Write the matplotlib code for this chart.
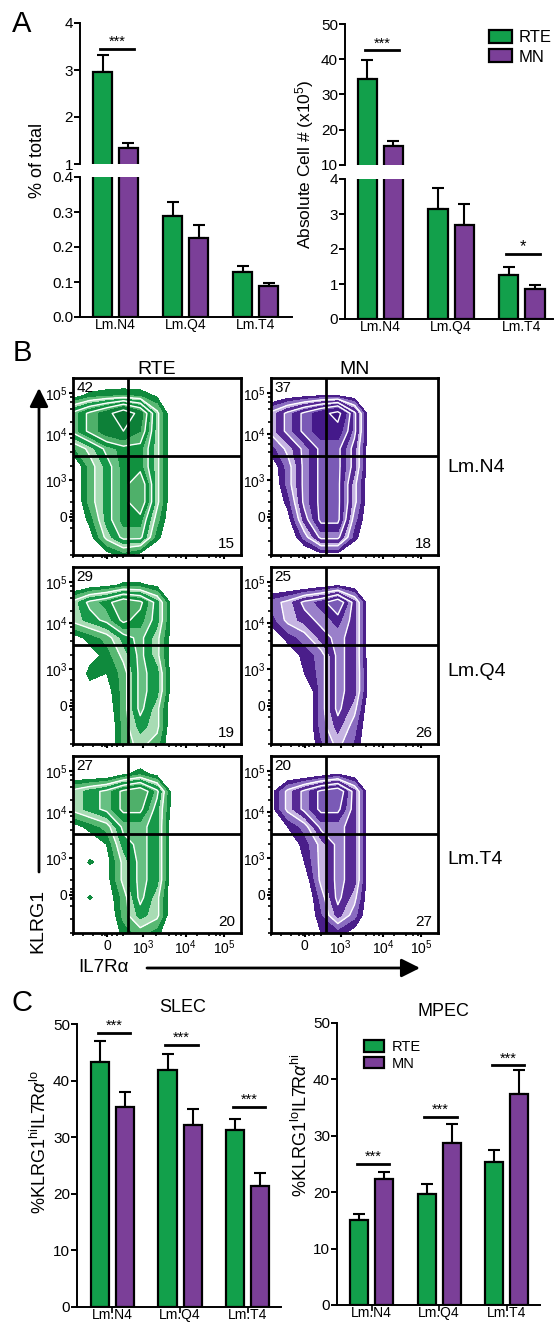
import numpy as np
import matplotlib
matplotlib.use("Agg")
import matplotlib.pyplot as plt

plt.rcParams['font.family'] = ['Liberation Sans', 'DejaVu Sans']
plt.rcParams['mathtext.fontset'] = 'custom'
plt.rcParams['mathtext.rm'] = 'Liberation Sans'
plt.rcParams['mathtext.it'] = 'Liberation Sans:italic'
plt.rcParams['axes.linewidth'] = 1.4

W, H = 555, 1322
GREEN = '#12a04b'
PURPLE = '#7b3f98'

# ---------------- data ----------------
groups = ['Lm.N4', 'Lm.Q4', 'Lm.T4']

# A: % of total
pct_rte = [2.95, 0.29, 0.128]
pct_rte_sem = [0.37, 0.04, 0.019]
pct_mn = [1.35, 0.225, 0.088]
pct_mn_sem = [0.10, 0.038, 0.009]
pct_sig = [(0, 3.45, '***')]

# A: absolute cell number (x10^5)
abs_rte = [34.5, 3.15, 1.25]
abs_rte_sem = [5.3, 0.6, 0.23]
abs_mn = [15.3, 2.7, 0.85]
abs_mn_sem = [1.6, 0.6, 0.13]
abs_sig = [(0, 42.5, '***'), (2, 1.85, '*')]

# C: SLEC / MPEC
slec_rte = [43.2, 41.8, 31.2]
slec_rte_sem = [3.8, 2.9, 2.1]
slec_mn = [35.3, 32.1, 21.3]
slec_mn_sem = [2.7, 2.8, 2.3]
slec_sig = [(0, 48.4, '***'), (1, 46.3, '***'), (2, 35.4, '***')]

mpec_rte = [15.1, 19.7, 25.3]
mpec_rte_sem = [1.0, 1.8, 2.2]
mpec_mn = [22.3, 28.8, 37.4]
mpec_mn_sem = [1.2, 3.3, 4.3]
mpec_sig = [(0, 25.0, '***'), (1, 33.4, '***'), (2, 42.5, '***')]

# B: flow plots, coarse density grids
# rows: KLRG1 display 1.0 -> 0.0, cols: IL7Ra display 0.0 -> 0.7
rte_n4 = [
    [0, 0, 0, 0, 0, 0, 0, 0],
    [0.5, 1, 1.2, 1.3, 1.2, 0.7, 0, 0],
    [3, 4, 5, 6.5, 5, 2, 0, 0],
    [3, 4, 5, 5.5, 4.5, 2, 0, 0],
    [1.2, 2, 3, 3.5, 3.5, 2, 0, 0],
    [0, 1.5, 2.5, 3.5, 3.5, 2, 0, 0],
    [0, 1.5, 2.5, 3.5, 4.5, 2, 0, 0],
    [0, 1.5, 2.5, 3.5, 4.5, 2, 0, 0],
    [0, 1, 2.5, 3.5, 3.5, 1.5, 0, 0],
    [0, 0.5, 2, 3, 3, 1, 0, 0],
    [0, 0, 0.5, 1, 0.5, 0, 0, 0],
]
mn_n4 = [
    [0, 0, 0, 0, 0, 0, 0, 0],
    [0, 0.4, 0.6, 0.8, 0.8, 0.4, 0, 0],
    [2, 3, 4, 5, 6, 3, 0, 0],
    [2, 3, 4, 5, 5, 3, 0, 0],
    [1, 2, 3, 4, 4, 2.5, 0, 0],
    [0.3, 1.5, 3, 4, 4, 2.5, 0, 0],
    [0, 1.5, 3, 4, 4, 2, 0, 0],
    [0, 1, 3, 4, 4, 2, 0, 0],
    [0, 0.5, 2.5, 4, 4, 1.5, 0, 0],
    [0, 0, 1.5, 3, 3, 1, 0, 0],
    [0, 0, 0, 0.5, 0.5, 0, 0, 0],
]
rte_q4 = [
    [0, 0, 0, 0, 0, 0, 0, 0],
    [0, 0.3, 0.5, 0.9, 0.9, 0.6, 0, 0],
    [2, 3, 3.5, 4.5, 4, 2.5, 0.3, 0],
    [2, 2.5, 3, 4, 3.5, 2.5, 0.3, 0],
    [0.5, 1, 1.5, 2.5, 3, 2, 0.3, 0],
    [0, 0.5, 1, 2, 3, 2, 0.2, 0],
    [0, 1, 0.8, 1.5, 3, 2.5, 0.2, 0],
    [0, 0.5, 0.5, 1.5, 3, 2.5, 0.2, 0],
    [0, 0, 0.3, 1.5, 3, 2, 0, 0],
    [0, 0, 0, 1.5, 2.5, 2, 0, 0],
    [0, 0, 0, 1.5, 2, 1.5, 0, 0],
]
mn_q4 = [
    [0, 0, 0, 0, 0, 0, 0, 0],
    [0, 0, 0, 0.3, 0.6, 0.3, 0, 0],
    [1.5, 2, 3, 3.5, 4.5, 2.5, 0, 0],
    [1, 2, 2.5, 3, 3.5, 2.5, 0, 0],
    [0.3, 1, 1.5, 2.5, 3, 2.5, 0, 0],
    [0, 0.3, 1, 1.5, 3, 2.5, 0, 0],
    [0, 0, 0.8, 1.5, 3, 2.5, 0.2, 0],
    [0, 0, 0, 1.5, 3, 2.5, 0.2, 0],
    [0, 0, 0, 1.5, 3, 2, 0, 0],
    [0, 0, 0, 1.5, 2.5, 1.5, 0, 0],
    [0, 0, 0, 1.2, 2, 1.2, 0, 0],
]
rte_t4 = [
    [0, 0, 0, 0, 0, 0, 0, 0],
    [0, 0, 0, 0.6, 1.1, 0.5, 0, 0],
    [2, 2.5, 3, 4, 4.5, 3, 0.2, 0],
    [2, 2.5, 3, 4, 4, 2.5, 0.3, 0],
    [0.5, 1, 1.5, 3, 3, 2.5, 0, 0],
    [0, 0.3, 0.8, 2.5, 3, 2.5, 0, 0],
    [0, 0.9, 0.5, 2, 3, 2.5, 0, 0],
    [0, 0, 0.5, 2, 3, 2.5, 0, 0],
    [0, 0.9, 0.3, 1.5, 3, 2, 0, 0],
    [0, 0, 0, 1.5, 2.5, 2, 0, 0],
    [0, 0, 0, 1, 1.5, 1, 0, 0],
]
mn_t4 = [
    [0, 0, 0, 0, 0, 0, 0, 0],
    [0, 0, 0, 0.3, 0.7, 0.3, 0, 0],
    [0.5, 2, 3, 4, 4.5, 2.5, 0, 0],
    [0.5, 2, 3, 4, 4, 2.5, 0, 0],
    [0, 0.8, 1.5, 3, 3, 2.5, 0, 0],
    [0, 0.3, 1, 2, 3, 2.5, 0, 0],
    [0, 0, 0.8, 2, 3, 2.5, 0, 0],
    [0, 0, 0.3, 2, 3, 2.5, 0, 0],
    [0, 0, 0, 1.5, 3, 2, 0, 0],
    [0, 0, 0, 1.2, 2.5, 1.5, 0, 0],
    [0, 0, 0, 0.8, 1, 0.5, 0, 0],
]
quad_ul = [[42, 37], [29, 25], [27, 20]]
quad_lr = [[15, 18], [19, 26], [20, 27]]
flow_rows = ['Lm.N4', 'Lm.Q4', 'Lm.T4']
flow_cols = ['RTE', 'MN']
flow_grids = [[rte_n4, mn_n4], [rte_q4, mn_q4], [rte_t4, mn_t4]]

axis_ticks = ['0', '$10^3$', '$10^4$', '$10^5$']
ytick_pos = [0.215, 0.424, 0.684, 0.915]
xtick_pos = [0.202, 0.417, 0.67, 0.9]
gate_x, gate_y = 0.327, 0.559

fig = plt.figure(figsize=(W / 100, H / 100), dpi=100)


def add_ax(x0, y0, x1, y1):
    return fig.add_axes([x0 / W, 1 - y1 / H, (x1 - x0) / W, (y1 - y0) / H])


# overlay in pixel coords for free text / arrows
ov = fig.add_axes([0, 0, 1, 1])
ov.set_xlim(0, W)
ov.set_ylim(H, 0)
ov.axis('off')

BW, OFF = 0.27, 0.185


def draw_bars(ax, rte, rte_sem, mn, mn_sem):
    x = np.arange(len(groups))
    for xs, v, e, c in [(x - OFF, rte, rte_sem, GREEN), (x + OFF, mn, mn_sem, PURPLE)]:
        ax.bar(xs, v, width=BW, color=c, edgecolor='black', linewidth=1.6, zorder=2)
        ax.errorbar(xs, v, yerr=[np.zeros(len(v)), e], fmt='none', ecolor='black',
                    elinewidth=1.5, capsize=4, capthick=1.5, zorder=1)


def style_ax(ax, bottom=True, xtick_len=0, ysize=11):
    ax.spines['top'].set_visible(False)
    ax.spines['right'].set_visible(False)
    ax.patch.set_alpha(0)
    ax.tick_params(axis='y', direction='out', length=4, width=1.4, labelsize=ysize, pad=1)
    if bottom:
        ax.set_xticks(range(len(groups)))
        ax.set_xticklabels(groups, fontsize=10)
        ax.tick_params(axis='x', length=xtick_len, width=1.2,
                       pad=1 - xtick_len)
    else:
        ax.spines['bottom'].set_visible(False)
        ax.set_xticks([])


def draw_sig(ax, sig, fs=10.5):
    for g, lvl, txt in sig:
        ax.plot([g - 0.22, g + 0.26], [lvl, lvl], color='black', lw=2, clip_on=False)
        ax.annotate(txt, (g + 0.02, lvl), xytext=(0, 0), textcoords='offset points',
                    ha='center', va='bottom', fontsize=fs)


# ---------------- panel A left ----------------
xl = (-0.507, 2.52)
a1t = add_ax(80, 23, 292, 164)
a1b = add_ax(80, 177, 292, 317)
for ax in (a1t, a1b):
    draw_bars(ax, pct_rte, pct_rte_sem, pct_mn, pct_mn_sem)
    ax.set_xlim(*xl)
a1t.set_ylim(1, 4)
a1t.set_yticks([1, 2, 3, 4])
a1b.set_ylim(0, 0.4)
a1b.set_yticks([0, 0.1, 0.2, 0.3, 0.4])
a1b.set_yticklabels(['0.0', '0.1', '0.2', '0.3', '0.4'])
style_ax(a1t, bottom=False)
style_ax(a1b)
draw_sig(a1t, pct_sig)
ov.text(38, 160, '% of total', rotation=90, ha='center', va='center', fontsize=13)

# ---------------- panel A right ----------------
xr = (-0.50, 2.44)
a2t = add_ax(345, 24, 553, 165)
a2b = add_ax(345, 179, 553, 319)
for ax in (a2t, a2b):
    draw_bars(ax, abs_rte, abs_rte_sem, abs_mn, abs_mn_sem)
    ax.set_xlim(*xr)
a2t.set_ylim(10, 50)
a2t.set_yticks([10, 20, 30, 40, 50])
a2b.set_ylim(0, 4)
a2b.set_yticks([0, 1, 2, 3, 4])
style_ax(a2t, bottom=False)
style_ax(a2b)
draw_sig(a2t, [s for s in abs_sig if s[1] > 10])
draw_sig(a2b, [s for s in abs_sig if s[1] <= 10], fs=12)
ov.text(305, 164, 'Absolute Cell # (x10$^5$)', rotation=90, ha='center', va='center',
        fontsize=12.5)
hA = [plt.Rectangle((0, 0), 1, 1, facecolor=c, edgecolor='black', linewidth=1.6)
      for c in (GREEN, PURPLE)]
fig.legend(hA, flow_cols, loc='upper left', bbox_to_anchor=(489 / W, 1 - 30 / H),
           frameon=False, fontsize=12, handlelength=1.35, handleheight=0.8,
           labelspacing=0.25, handletextpad=0.4, borderpad=0, borderaxespad=0)

# ---------------- panel B ----------------
gx = np.arange(8) * 0.1
gy = np.arange(11) * 0.1
levels = [0.8, 1.3, 1.8, 2.3, 2.8, 3.3, 3.8, 4.5, 5.5, 10]
green_fill = ['#0f8a3d', '#58b872', '#a8dcb4', '#17994a', '#66c082', '#11913f',
              '#4fb06a', '#0d8038', '#0a7432']
purple_fill = ['#4a1e8a', '#8a6cc0', '#c6b4e2', '#572a95', '#9a80ca', '#4d2290',
               '#7a5ab6', '#44198a', '#3b1380']
line_levels = [1.8, 2.8, 3.8, 5.5]
col_x = [(73, 241), (271, 438)]
row_y = [(378, 555), (567, 744), (756, 933)]
for r in range(3):
    for c in range(2):
        ax = add_ax(col_x[c][0], row_y[r][0], col_x[c][1], row_y[r][1])
        z = np.array(flow_grids[r][c])[::-1]
        fills = green_fill if c == 0 else purple_fill
        ax.contourf(gx, gy, z, levels=levels, colors=fills)
        ax.contour(gx, gy, z, levels=line_levels, colors='white', linewidths=1)
        ax.axvline(gate_x, color='black', lw=2)
        ax.axhline(gate_y, color='black', lw=2)
        ax.set_xlim(0, 1)
        ax.set_ylim(0, 1)
        for s in ax.spines.values():
            s.set_linewidth(2)
        ax.set_yticks(ytick_pos)
        ax.set_yticklabels(axis_ticks, fontsize=10)
        ax.set_xticks(xtick_pos)
        if r == 2:
            ax.set_xticklabels(axis_ticks, fontsize=10)
        else:
            ax.set_xticklabels([])
        mx = [0.0, 0.06, 0.12, 0.17, 0.19, 0.23, 0.26, 0.3] + \
             [xtick_pos[i] + (xtick_pos[i + 1] - xtick_pos[i]) * np.log10(k)
              for i in (1, 2) for k in (2, 4, 6, 8)]
        my = [0.0, 0.08, 0.15, 0.19, 0.2, 0.23, 0.25, 0.3, 0.36] + \
             [ytick_pos[i] + (ytick_pos[i + 1] - ytick_pos[i]) * np.log10(k)
              for i in (1, 2) for k in (2, 4, 6, 8)]
        ax.set_xticks(mx, minor=True)
        ax.set_yticks(my, minor=True)
        ax.tick_params(which='major', length=3, width=1.5, pad=1)
        ax.tick_params(which='minor', length=2, width=1.2)
        ax.text(0.02, 0.985, str(quad_ul[r][c]), transform=ax.transAxes,
                ha='left', va='top', fontsize=11)
        ax.text(0.965, 0.02, str(quad_lr[r][c]), transform=ax.transAxes,
                ha='right', va='bottom', fontsize=11)
        if r == 0:
            ax.set_title(flow_cols[c], fontsize=14, pad=3)
    ov.text(447, [467, 672, 860][r], flow_rows[r], ha='left', va='center', fontsize=14)

ov.annotate('', xy=(39, 388), xytext=(39, 872),
            arrowprops=dict(arrowstyle='-|>', mutation_scale=28, lw=2, color='black',
                            shrinkA=0, shrinkB=0))
ov.text(38, 921, 'KLRG1', rotation=90, ha='center', va='center', fontsize=14)
ov.annotate('', xy=(420, 968), xytext=(147, 968),
            arrowprops=dict(arrowstyle='-|>', mutation_scale=28, lw=2, color='black',
                            shrinkA=0, shrinkB=0))
ov.text(103, 968, 'IL7Rα', ha='center', va='center', fontsize=13.5)

# ---------------- panel C ----------------
c1 = add_ax(77, 1024, 281, 1307)
draw_bars(c1, slec_rte, slec_rte_sem, slec_mn, slec_mn_sem)
c1.set_xlim(-0.524, 2.49)
c1.set_ylim(0, 50)
c1.set_yticks([0, 10, 20, 30, 40, 50])
style_ax(c1, xtick_len=4)
draw_sig(c1, slec_sig)
ov.text(183, 1008, 'SLEC', ha='center', va='center', fontsize=13)
ov.text(40, 1142, '%KLRG1$^{\\mathrm{hi}}$IL7R$\\alpha^{\\mathrm{lo}}$', rotation=90,
        ha='center', va='center', fontsize=13)

c2 = add_ax(337, 1023, 540, 1305)
draw_bars(c2, mpec_rte, mpec_rte_sem, mpec_mn, mpec_mn_sem)
c2.set_xlim(-0.51, 2.49)
c2.set_ylim(0, 50)
c2.set_yticks([0, 10, 20, 30, 40, 50])
style_ax(c2, xtick_len=4)
draw_sig(c2, mpec_sig)
ov.text(301, 1125, '%KLRG1$^{\\mathrm{lo}}$IL7R$\\alpha^{\\mathrm{hi}}$', rotation=90,
        ha='center', va='center', fontsize=13)
ov.text(443, 1011, 'MPEC', ha='center', va='center', fontsize=13)
c2.legend(hA, flow_cols, loc='upper left', bbox_to_anchor=(364 / W, 1 - 1040 / H),
          bbox_transform=fig.transFigure, frameon=False, fontsize=10.5,
          handlelength=1.4, handleheight=0.8, labelspacing=0.2, handletextpad=0.5,
          borderpad=0, borderaxespad=0)

# panel letters
for lab, (px, py) in zip('ABC', [(22, 24), (22, 353), (22, 1003)]):
    ov.text(px, py, lab, ha='center', va='center', fontsize=21)

fig.savefig('out.png', dpi=100)
